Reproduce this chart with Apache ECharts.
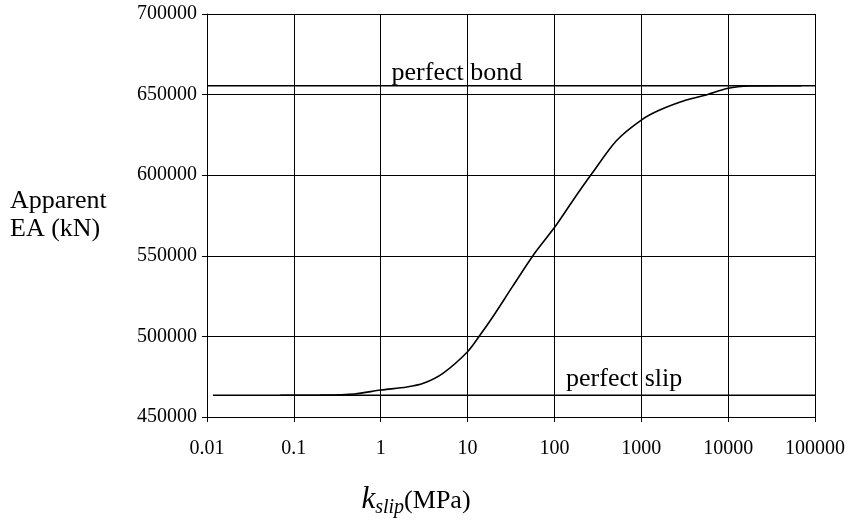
<!DOCTYPE html>
<html>
<head>
<meta charset="utf-8">
<script src="https://cdn.jsdelivr.net/npm/echarts@6/dist/echarts.min.js"></script>
<style>
  html, body { margin: 0; padding: 0; background: #fff; }
  #chart { width: 856px; height: 525px; }
</style>
</head>
<body>
<div id="chart"></div>
<script>
// Slip modulus (MPa) and the resulting apparent axial stiffness EA (kN)
const kSlip = [0.07, 0.2, 0.5, 1, 2, 3.1, 5.2, 10, 14, 20, 33, 60, 100, 164, 270, 520, 1000, 1630, 3300, 5600, 10000, 17800, 40000, 70000];
const apparentEA = [463500, 463600, 464300, 466700, 468600, 470900, 477100, 490500, 501000, 513000, 531000, 552000, 567500, 584500, 601000, 621500, 634200, 640400, 646600, 649800, 653900, 655300, 655500, 655500];

// Limiting cases
const bondEA = 655500;
const slipEA = 463500;
const bondRange = [0.01, 100000];
const slipRange = [0.0117, 100000];
const bondLabel = 'perfect bond';
const slipLabel = 'perfect slip';
const bondLabelAt = 1.35;
const slipLabelAt = 138;

// Axis ticks
const xTickLabels = ['0.01', '0.1', '1', '10', '100', '1000', '10000', '100000'];
const yMin = 450000, yMax = 700000, yStep = 50000;

const serif = '"Liberation Serif", "Times New Roman", serif';
const ink = '#000';

const curveData = kSlip.map((k, i) => [k, apparentEA[i]]);
const bondData = bondRange.map(k => [k, bondEA]);
const slipData = slipRange.map(k => [k, slipEA]);

function limitLabel(text, at, value, dy) {
  return {
    silent: true,
    symbol: 'circle',
    symbolSize: 1,
    itemStyle: { color: 'rgba(0,0,0,0)' },
    data: [{ coord: [at, value] }],
    label: {
      show: true,
      formatter: text,
      position: [0, 0],
      align: 'left',
      verticalAlign: 'bottom',
      offset: [0, dy],
      color: ink,
      fontFamily: serif,
      fontSize: 26
    }
  };
}

const chart = echarts.init(document.getElementById('chart'), null, { renderer: 'canvas' });
chart.setOption({
  animation: false,
  backgroundColor: '#fff',
  grid: { left: 207, right: 41, top: 14, bottom: 108, containLabel: false },
  xAxis: {
    type: 'log',
    logBase: 10,
    min: 0.01,
    max: 100000,
    interval: 1,
    name: '{k|k}{s|slip}{u|(MPa)}',
    nameLocation: 'middle',
    nameGap: 64,
    nameTextStyle: {
      padding: [0, 190, 0, 0],
      rich: {
        k: { fontFamily: serif, fontStyle: 'italic', fontSize: 31, color: ink },
        s: { fontFamily: serif, fontStyle: 'italic', fontSize: 20, color: ink, padding: [17, 0, 0, 0] },
        u: { fontFamily: serif, fontSize: 26, color: ink, padding: [3, 0, 0, 0] }
      }
    },
    axisLine: { show: true, lineStyle: { color: ink, width: 1 } },
    axisTick: { show: true, inside: false, length: 5, lineStyle: { color: ink } },
    minorTick: { show: false },
    axisLabel: {
      margin: 22,
      color: ink,
      fontFamily: serif,
      fontSize: 20,
      formatter: v => xTickLabels[Math.round(Math.log10(v)) + 2]
    },
    splitLine: { show: true, lineStyle: { color: ink, width: 1 } }
  },
  yAxis: {
    type: 'value',
    min: yMin,
    max: yMax,
    interval: yStep,
    name: 'Apparent\nEA (kN)',
    nameLocation: 'middle',
    nameRotate: 0,
    nameGap: 197,
    nameTextStyle: {
      align: 'left',
      verticalAlign: 'middle',
      color: ink,
      fontFamily: serif,
      fontSize: 26,
      lineHeight: 28,
      padding: [4, 0, 0, 0]
    },
    axisLine: { show: true, lineStyle: { color: ink, width: 1 } },
    axisTick: { show: true, inside: false, length: 5, lineStyle: { color: ink } },
    axisLabel: {
      margin: 10,
      color: ink,
      fontFamily: serif,
      fontSize: 20,
      formatter: v => String(v)
    },
    splitLine: { show: true, lineStyle: { color: ink, width: 1 } }
  },
  series: [
    {
      name: bondLabel,
      type: 'line',
      data: bondData,
      symbol: 'none',
      silent: true,
      lineStyle: { color: ink, width: 1.3 },
      markPoint: limitLabel(bondLabel, bondLabelAt, bondEA, 1)
    },
    {
      name: slipLabel,
      type: 'line',
      data: slipData,
      symbol: 'none',
      silent: true,
      lineStyle: { color: ink, width: 1.3 },
      markPoint: limitLabel(slipLabel, slipLabelAt, slipEA, -3)
    },
    {
      name: 'Apparent EA',
      type: 'line',
      data: curveData,
      smooth: 0.3,
      symbol: 'none',
      silent: true,
      lineStyle: { color: ink, width: 1.6 }
    }
  ]
});
</script>
</body>
</html>
